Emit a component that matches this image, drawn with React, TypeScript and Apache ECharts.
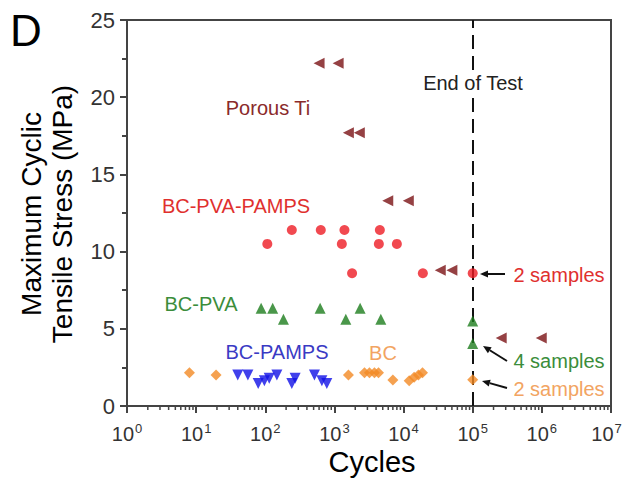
import React, { useEffect, useRef } from "react";
import * as echarts from "echarts";

// ---- Data (cycles, max cyclic tensile stress MPa) ----
const porousTiCycles = [600, 1130, 1590, 2290, 5900, 11700, 33900, 50000, 258000, 980000];
const porousTiStress = [22.2, 22.2, 17.7, 17.7, 13.3, 13.3, 8.8, 8.8, 4.4, 4.4];

const bcPvaPampsCycles = [242, 635, 1396, 4540, 107, 1280, 4390, 8000, 1800, 19000, 100000];
const bcPvaPampsStress = [11.4, 11.4, 11.4, 11.4, 10.5, 10.5, 10.5, 10.5, 8.6, 8.6, 8.6];

const bcPvaCycles = [87, 128, 621, 2355, 183, 1462, 4690, 100000, 100000];
const bcPvaStress = [6.33, 6.33, 6.33, 6.33, 5.62, 5.62, 5.62, 5.5, 4.05];

const bcPampsCycles = [40, 56, 79, 97, 114, 147, 242, 270, 514, 658, 776];
const bcPampsStress = [2.0, 2.0, 1.46, 1.63, 1.79, 2.0, 1.46, 1.79, 2.0, 1.63, 1.46];

const bcCycles = [8, 19.4, 1595, 2720, 3210, 3790, 4340, 7000, 12050, 14200, 16400, 18800, 100000];
const bcStress = [2.16, 2.0, 2.0, 2.16, 2.16, 2.16, 2.16, 1.68, 1.64, 1.86, 2.0, 2.16, 1.7];

const yTicks = [0, 5, 10, 15, 20, 25];
const endOfTest = 100000;

const zip = (xs: number[], ys: number[]) => xs.map((x, i) => [x, ys[i]]);

const FONT = "'Liberation Sans', Arial, sans-serif";

const COLORS = {
  ti: "#7a1214",
  tiLabel: "#8a2a2a",
  pvaPamps: "#ee1c24",
  pvaPampsLabel: "#e0302e",
  pva: "#1d7d1d",
  pvaLabel: "#3b8d3b",
  pamps: "#1010e6",
  pampsLabel: "#3a3ac4",
  bc: "#f28a24",
  bcLabel: "#f2a462",
};

function arrow(x1: number, y1: number, x2: number, y2: number) {
  const ang = Math.atan2(y2 - y1, x2 - x1);
  const L = 8;
  const W = 3.5;
  const bx = x2 - L * Math.cos(ang);
  const by = y2 - L * Math.sin(ang);
  const px = -Math.sin(ang);
  const py = Math.cos(ang);
  return [
    {
      type: "line",
      shape: { x1, y1, x2: bx, y2: by },
      style: { stroke: "#111", lineWidth: 2 },
      z: 100,
    },
    {
      type: "polygon",
      shape: {
        points: [
          [x2, y2],
          [bx + px * W, by + py * W],
          [bx - px * W, by - py * W],
        ],
      },
      style: { fill: "#111" },
      z: 100,
    },
  ];
}

function labelText(text: string, x: number, y: number, color: string, size = 20) {
  return {
    type: "text",
    x,
    y,
    z: 100,
    style: {
      text,
      fill: color,
      font: `${size}px ${FONT}`,
      align: "center",
      verticalAlign: "middle",
    },
  };
}

export default function App() {
  const ref = useRef<HTMLDivElement>(null);

  useEffect(() => {
    if (!ref.current) return;
    document.body.style.margin = "0";
    document.body.style.overflow = "hidden";
    const chart = echarts.init(ref.current, null, { renderer: "svg" });

    const minorVals: number[] = [];
    for (let d = 0; d < 7; d++) {
      for (let m = 2; m <= 9; m++) minorVals.push(m * Math.pow(10, d));
    }

    const option: any = {
      animation: false,
      backgroundColor: "#fff",
      grid: {
        left: 127,
        top: 20,
        right: 12,
        bottom: 72,
        containLabel: false,
        outerBoundsMode: "none",
        show: true,
        borderColor: "#444",
        borderWidth: 2,
        backgroundColor: "transparent",
      },
      xAxis: {
        type: "log",
        logBase: 10,
        min: 1,
        max: 1e7,
        axisLine: { show: true, lineStyle: { color: "#444", width: 2 } },
        axisTick: { show: true, length: 7, inside: false, lineStyle: { color: "#444", width: 2 } },
        splitLine: { show: false },
        axisLabel: {
          margin: 16,
          color: "#333",
          hideOverlap: false,
          formatter: (v: number) => {
            const e = Math.round(Math.log10(v));
            return e === 7 ? "{b|10}{sl|" + e + "}" : "{b|10}{s|" + e + "}";
          },
          rich: {
            b: { fontSize: 20, fontFamily: FONT, color: "#333", lineHeight: 22, verticalAlign: "bottom" },
            s: { fontSize: 13, fontFamily: FONT, color: "#333", lineHeight: 22, verticalAlign: "top", padding: [0, 0, 0, 1] },
            sl: { fontSize: 13, fontFamily: FONT, color: "#333", lineHeight: 22, verticalAlign: "top", padding: [0, 9, 0, 1] },
          },
        },
      },
      yAxis: {
        type: "value",
        min: 0,
        max: 25,
        interval: 5,
        axisLine: { show: true, lineStyle: { color: "#444", width: 2 } },
        axisTick: { show: true, length: 7, inside: false, lineStyle: { color: "#444", width: 2 } },
        minorTick: { show: true, splitNumber: 2, length: 5, lineStyle: { color: "#444", width: 2 } },
        splitLine: { show: false },
        axisLabel: {
          margin: 12,
          color: "#333",
          fontSize: 22,
          fontFamily: FONT,
          formatter: (v: number) => (yTicks.includes(v) ? String(v) : ""),
        },
      },
      series: [
        {
          type: "custom",
          name: "minorTicks",
          data: minorVals.map((v) => [v, 0]),
          silent: true,
          clip: false,
          renderItem: (params: any, api: any) => {
            const p = api.coord([api.value(0), 0]);
            return {
              type: "line",
              shape: { x1: p[0], y1: p[1], x2: p[0], y2: p[1] + 4 },
              style: { stroke: "#444", lineWidth: 1.5 },
            };
          },
          z: 1,
        },
        {
          type: "scatter",
          name: "Porous Ti",
          data: zip(porousTiCycles, porousTiStress),
          symbol: "triangle",
          symbolRotate: 90,
          symbolSize: 11,
          itemStyle: { color: COLORS.ti },
          z: 5,
          markLine: {
            silent: true,
            symbol: "none",
            label: { show: false },
            lineStyle: { color: "#111", width: 2, type: [14, 7] },
            data: [{ xAxis: endOfTest }],
          },
        },
        {
          type: "scatter",
          name: "BC-PVA-PAMPS",
          data: zip(bcPvaPampsCycles, bcPvaPampsStress),
          symbol: "circle",
          symbolSize: 10,
          itemStyle: { color: COLORS.pvaPamps },
          z: 5,
        },
        {
          type: "scatter",
          name: "BC-PVA",
          data: zip(bcPvaCycles, bcPvaStress),
          symbol: "triangle",
          symbolSize: 11,
          itemStyle: { color: COLORS.pva },
          z: 5,
        },
        {
          type: "scatter",
          name: "BC-PAMPS",
          data: zip(bcPampsCycles, bcPampsStress),
          symbol: "triangle",
          symbolRotate: 180,
          symbolSize: 11,
          itemStyle: { color: COLORS.pamps },
          z: 5,
        },
        {
          type: "scatter",
          name: "BC",
          data: zip(bcCycles, bcStress),
          symbol: "diamond",
          symbolSize: 11,
          itemStyle: { color: COLORS.bc },
          z: 5,
        },
      ],
      graphic: [
        {
          type: "text",
          x: 10,
          y: 30,
          style: { text: "D", font: `44px ${FONT}`, fill: "#000", verticalAlign: "middle", align: "left" },
        },
        {
          type: "text",
          x: 47,
          y: 214,
          rotation: Math.PI / 2,
          style: {
            text: "Maximum Cyclic\nTensile Stress (MPa)",
            font: `28px ${FONT}`,
            lineHeight: 31,
            fill: "#000",
            align: "center",
            verticalAlign: "middle",
          },
        },
        {
          type: "text",
          x: 372,
          y: 462,
          style: { text: "Cycles", font: `29px ${FONT}`, fill: "#000", align: "center", verticalAlign: "middle" },
        },
        {
          type: "text",
          x: 473,
          y: 83,
          z: 100,
          style: {
            text: "End of Test",
            font: `20px ${FONT}`,
            fill: "#222",
            align: "center",
            verticalAlign: "middle",
            backgroundColor: "#fff",
            padding: [3, 2, 3, 2],
          },
        },
        labelText("Porous Ti", 268, 108, COLORS.tiLabel),
        labelText("BC-PVA-PAMPS", 236, 206, COLORS.pvaPampsLabel),
        labelText("BC-PVA", 201, 304, COLORS.pvaLabel),
        labelText("BC-PAMPS", 277, 352, COLORS.pampsLabel),
        labelText("BC", 383, 353, COLORS.bcLabel),
        labelText("2 samples", 559, 275, COLORS.pvaPampsLabel),
        labelText("4 samples", 559, 361, COLORS.pvaLabel),
        labelText("2 samples", 559, 389, COLORS.bcLabel),
        ...arrow(505, 274, 480, 274),
        ...arrow(507, 361, 483, 346),
        ...arrow(507, 388, 482, 381),
      ],
    };

    chart.setOption(option);
    return () => chart.dispose();
  }, []);

  return (
    <div
      ref={ref}
      style={{ position: "absolute", left: 0, top: 0, width: 623, height: 478 }}
    />
  );
}
